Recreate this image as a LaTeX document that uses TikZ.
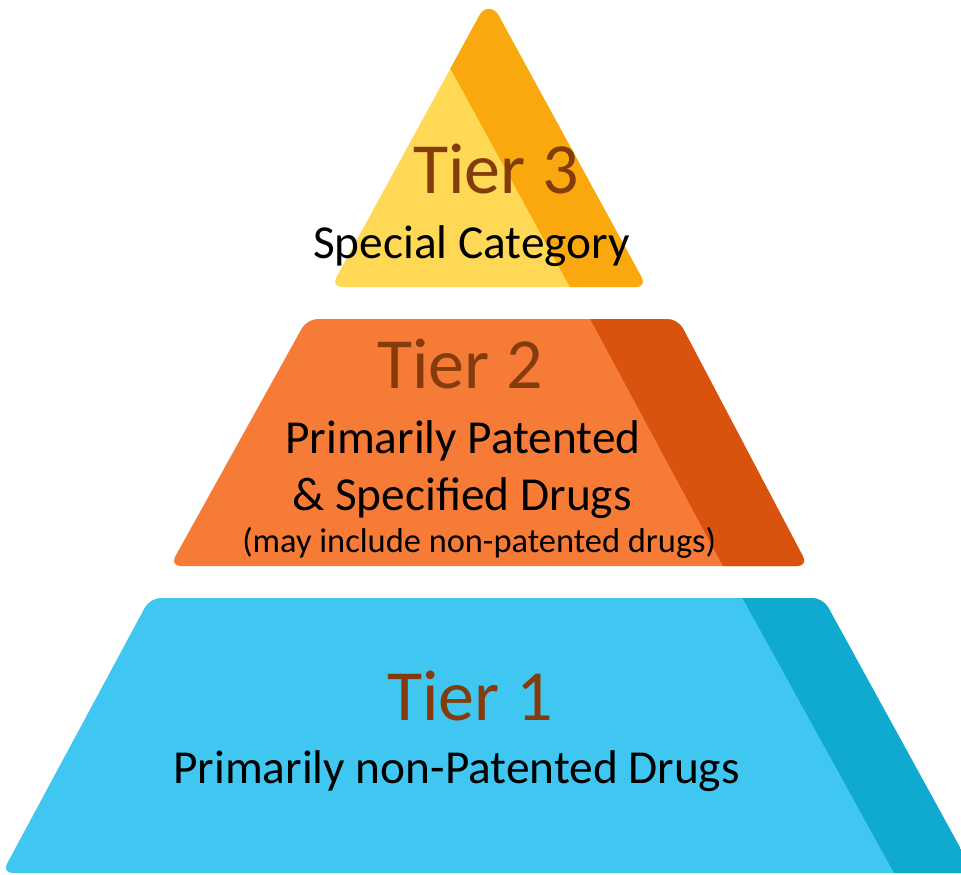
\documentclass[tikz,border=0pt]{standalone}
\usepackage{fontspec}
\setmainfont{Carlito}
\definecolor{ylight}{HTML}{FFD955}
\definecolor{ydark}{HTML}{F9A90E}
\definecolor{olight}{HTML}{F67B37}
\definecolor{odark}{HTML}{D9520E}
\definecolor{blight}{HTML}{40C7F1}
\definecolor{bdark}{HTML}{10A9CF}
\definecolor{tiertext}{HTML}{843C0C}
\begin{document}
\begin{tikzpicture}[x=0.75pt,y=-0.75pt,
  tiertitle/.style={anchor=base west,inner sep=0pt,text=tiertext,font=\fontsize{54}{60}\selectfont},
  tiersub/.style={anchor=base west,inner sep=0pt,text=black,font=\fontsize{35.5}{40}\selectfont},
  tiersmall/.style={anchor=base west,inner sep=0pt,text=black,font=\fontsize{25.8}{30}\selectfont}]
\useasboundingbox (0,0) rectangle (961,875);
\clip (0,0) rectangle (961,875);
% Tier 3
\begin{scope}
  \clip (342,287) -- (636,287) .. controls (642,287) and (644.6,282.7) .. (641.7,277.4)
     -- (498.6,15.5) .. controls (493.8,6.7) and (484.2,6.7) .. (479.4,15.5)
     -- (336.3,277.4) .. controls (333.4,282.7) and (336,287) .. (342,287) -- cycle;
  \fill[ylight] (300,-10) rectangle (700,300);
  \fill[ydark] (402,-20) -- (700,-20) -- (700,300) -- (577,300) -- cycle;
\end{scope}
% Tier 2
\begin{scope}
  \clip[rounded corners=8pt] (489,566) -- (170,566) -- (307,319) -- (678,319) -- (808,566) -- cycle;
  \fill[olight] (150,300) rectangle (850,580);
  \fill[odark] (580,300) -- (850,300) -- (850,580) -- (730.5,580) -- cycle;
\end{scope}
% Tier 1
\begin{scope}
  \clip[rounded corners=8pt] (489,873) -- (2,873) -- (150,598) -- (823,598) -- (974,873) -- cycle;
  \fill[blight] (-20,580) rectangle (1000,890);
  \fill[bdark] (732.6,580) -- (1000,580) -- (1000,890) -- (903.4,890) -- cycle;
\end{scope}
% Texts
\node[tiertitle] (t3) at (413,193) {Tier 3};
\node[tiersub] (s3) at (313,258) {Special Category};
\node[tiertitle] (t2) at (377,388) {Tier 2};
\node[tiersub] (s2a) at (285,453) {Primarily Patented};
\node[tiersub] (s2b) at (292,510) {\& Specified Drugs};
\node[tiersmall] (s2c) at (242,552) {(may include non-patented drugs)};
\node[tiertitle] (t1) at (387,720) {Tier 1};
\node[tiersub] (s1) at (173,783) {Primarily non-Patented Drugs};
\end{tikzpicture}
\end{document}
